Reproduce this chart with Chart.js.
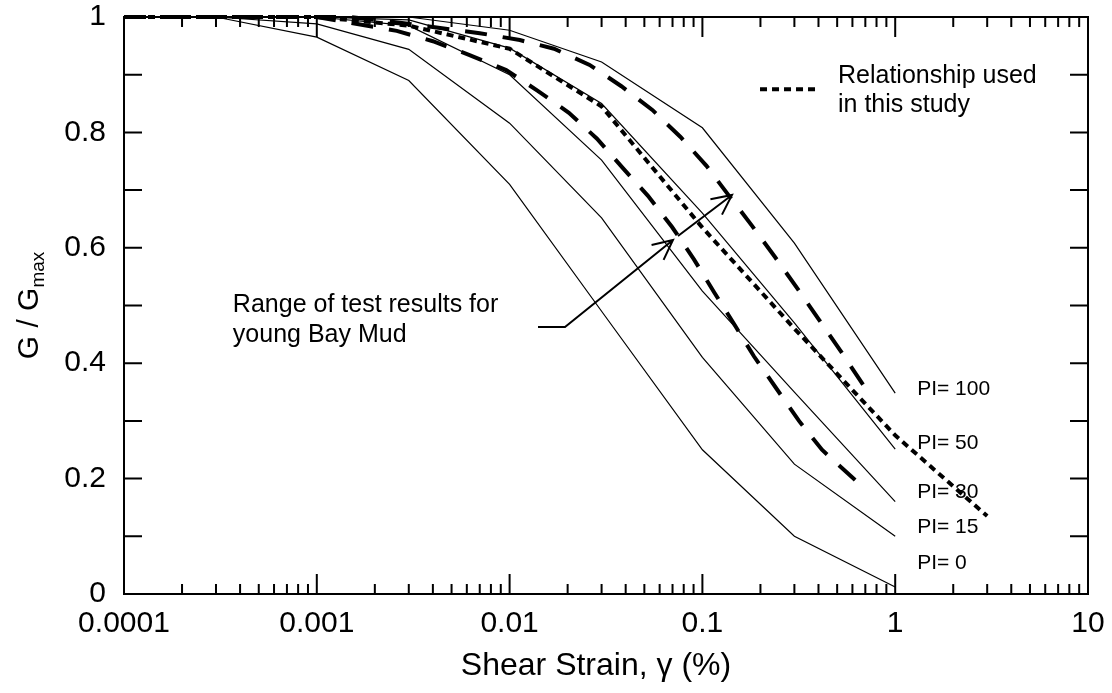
<!doctype html>
<html>
<head>
<meta charset="utf-8">
<title>G/Gmax vs Shear Strain</title>
<script src="https://cdn.jsdelivr.net/npm/chart.js@4/dist/chart.umd.min.js"></script>
<style>
  html, body { margin: 0; padding: 0; background: #fff; }
  canvas { display: block; }
</style>
</head>
<body>
<canvas id="modulusChart" width="1112" height="693"></canvas>
<script>
// strains (%) where the PI curves have their break points
var strainPoints = [0.0001, 0.0003, 0.001, 0.003, 0.01, 0.03, 0.1, 0.3, 1];
var pi0 = [1, 1, 0.965, 0.89, 0.71, 0.49, 0.25, 0.10, 0.012];
var pi15 = [1, 1, 0.988, 0.944, 0.816, 0.652, 0.41, 0.225, 0.10];
var pi30 = [1, 1, 1, 0.985, 0.90, 0.752, 0.525, 0.35, 0.16];
var pi50 = [1, 1, 1, 0.995, 0.946, 0.85, 0.66, 0.47, 0.251];
var pi100 = [1, 1, 1, 1, 0.977, 0.922, 0.808, 0.608, 0.348];

// relationship used in this study
var studyStrain = [0.0001, 0.001, 0.003, 0.01, 0.03, 0.1, 0.3, 1, 3];
var studyRatio = [1, 1, 0.985, 0.945, 0.845, 0.635, 0.46, 0.275, 0.135];

// range of test results, young Bay Mud
var upperStrain = [0.0001, 0.0015, 0.0027, 0.007, 0.0113, 0.017, 0.026, 0.038, 0.055, 0.077, 0.105, 0.1375, 0.181, 0.238, 0.31, 0.403, 0.524, 0.706];
var upperRatio = [1, 1, 0.99, 0.972, 0.96, 0.945, 0.917, 0.88, 0.839, 0.792, 0.742, 0.69, 0.638, 0.584, 0.53, 0.475, 0.42, 0.355];
var lowerStrain = [0.0001, 0.001, 0.0026, 0.004, 0.0062, 0.0096, 0.014, 0.0203, 0.0284, 0.0387, 0.0522, 0.0696, 0.0904, 0.115, 0.146, 0.185, 0.241, 0.317, 0.417, 0.656];
var lowerRatio = [1, 1, 0.976, 0.958, 0.934, 0.908, 0.872, 0.834, 0.789, 0.738, 0.69, 0.636, 0.58, 0.523, 0.468, 0.412, 0.357, 0.30, 0.25, 0.19];

var xTickValues = [0.0001, 0.001, 0.01, 0.1, 1, 10];
var xTickLabels = ["0.0001", "0.001", "0.01", "0.1", "1", "10"];
var yTickValues = [0, 0.2, 0.4, 0.6, 0.8, 1];
var yTickLabels = ["0", "0.2", "0.4", "0.6", "0.8", "1"];
var piNames = ["PI= 100", "PI= 50", "PI= 30", "PI= 15", "PI= 0"];

var FONT = '"Liberation Sans", Arial, sans-serif';

function pairs(xs, ys) {
  return xs.map(function (x, i) { return { x: x, y: ys[i] }; });
}

function solid(data) {
  return { data: data, borderColor: "#000", borderWidth: 1.2, pointRadius: 0, showLine: true, clip: false };
}

function arrowHead(ctx, fx, fy, tx, ty) {
  var ang = Math.atan2(ty - fy, tx - fx);
  var len = 22, spread = 0.45;
  ctx.moveTo(tx - len * Math.cos(ang - spread), ty - len * Math.sin(ang - spread));
  ctx.lineTo(tx, ty);
  ctx.lineTo(tx - len * Math.cos(ang + spread), ty - len * Math.sin(ang + spread));
}

// frame, inward ticks, labels and notes
var decorations = {
  id: "decorations",
  afterDatasetsDraw: function (chart) {
    var ctx = chart.ctx, a = chart.chartArea;
    var sx = chart.scales.x, sy = chart.scales.y;
    var X = function (v) { return sx.getPixelForValue(v); };
    var Y = function (v) { return sy.getPixelForValue(v); };

    ctx.save();
    ctx.strokeStyle = "#000";
    ctx.fillStyle = "#000";
    ctx.lineWidth = 2;
    ctx.strokeRect(a.left, a.top, a.right - a.left, a.bottom - a.top);

    ctx.beginPath();
    for (var d = -4; d <= 0; d++) {
      for (var m = 1; m <= 9; m++) {
        var px = X(m * Math.pow(10, d));
        var len = m === 1 ? 20 : 10;
        ctx.moveTo(px, a.bottom); ctx.lineTo(px, a.bottom - len);
        ctx.moveTo(px, a.top); ctx.lineTo(px, a.top + len);
      }
    }
    for (var k = 1; k < 10; k++) {
      var py = Y(k / 10);
      ctx.moveTo(a.left, py); ctx.lineTo(a.left + 18, py);
      ctx.moveTo(a.right, py); ctx.lineTo(a.right - 18, py);
    }
    ctx.stroke();

    // tick labels
    ctx.font = "30px " + FONT;
    ctx.textAlign = "center";
    ctx.textBaseline = "middle";
    xTickValues.forEach(function (v, i) {
      ctx.fillText(xTickLabels[i], X(v), a.bottom + 30);
    });
    ctx.textAlign = "right";
    yTickValues.forEach(function (v, i) {
      ctx.fillText(yTickLabels[i], a.left - 18, Y(v));
    });

    // axis titles
    ctx.textAlign = "center";
    ctx.font = "32px " + FONT;
    ctx.fillText("Shear Strain, \u03b3 (%)", (a.left + a.right) / 2 - 10, a.bottom + 72);

    ctx.save();
    ctx.translate(a.left - 94, (a.top + a.bottom) / 2);
    ctx.rotate(-Math.PI / 2);
    ctx.textAlign = "left";
    ctx.font = "30px " + FONT;
    var main = "G / G", w1 = ctx.measureText(main).width;
    ctx.font = "19px " + FONT;
    var w2 = ctx.measureText("max").width;
    ctx.font = "30px " + FONT;
    ctx.fillText(main, -(w1 + w2) / 2, 0);
    ctx.font = "19px " + FONT;
    ctx.fillText("max", -(w1 + w2) / 2 + w1, 9);
    ctx.restore();

    // PI labels beside the curve ends
    ctx.font = "21px " + FONT;
    ctx.textAlign = "left";
    ctx.textBaseline = "middle";
    [0.355, 0.262, 0.177, 0.116, 0.054].forEach(function (v, i) {
      ctx.fillText(piNames[i], X(1.3), Y(v));
    });

    // legend for the study relationship
    ctx.save();
    ctx.lineWidth = 4;
    ctx.setLineDash([7, 5]);
    ctx.beginPath();
    ctx.moveTo(X(0.199), Y(0.875));
    ctx.lineTo(X(0.407), Y(0.875));
    ctx.stroke();
    ctx.restore();
    ctx.font = "25px " + FONT;
    ctx.textBaseline = "alphabetic";
    ctx.fillText("Relationship used", X(0.505), Y(0.886));
    ctx.fillText("in this study", X(0.505), Y(0.835));

    // note with arrows to the test range
    ctx.fillText("Range of test results for", X(0.000367), Y(0.4887));
    ctx.fillText("young Bay Mud", X(0.000367), Y(0.4367));
    ctx.lineWidth = 2;
    ctx.beginPath();
    ctx.moveTo(X(0.01404), Y(0.4627));
    ctx.lineTo(X(0.01938), Y(0.4627));
    ctx.lineTo(X(0.07039), Y(0.6135));
    arrowHead(ctx, X(0.01938), Y(0.4627), X(0.07039), Y(0.6135));
    ctx.moveTo(X(0.0747), Y(0.6205));
    ctx.lineTo(X(0.1424), Y(0.6915));
    arrowHead(ctx, X(0.0747), Y(0.6205), X(0.1424), Y(0.6915));
    ctx.stroke();

    ctx.restore();
  }
};

new Chart(document.getElementById("modulusChart").getContext("2d"), {
  type: "scatter",
  data: {
    datasets: [
      solid(pairs(strainPoints, pi0)),
      solid(pairs(strainPoints, pi15)),
      solid(pairs(strainPoints, pi30)),
      solid(pairs(strainPoints, pi50)),
      solid(pairs(strainPoints, pi100)),
      { data: pairs(upperStrain, upperRatio), borderColor: "#000", borderWidth: 4, borderDash: [22, 16], pointRadius: 0, showLine: true, clip: false },
      { data: pairs(lowerStrain, lowerRatio), borderColor: "#000", borderWidth: 4, borderDash: [22, 16], pointRadius: 0, showLine: true, clip: false },
      { data: pairs(studyStrain, studyRatio), borderColor: "#000", borderWidth: 4, borderDash: [7, 5], pointRadius: 0, showLine: true, clip: false }
    ]
  },
  options: {
    responsive: false,
    animation: false,
    events: [],
    layout: { padding: { left: 124, right: 24, top: 17, bottom: 99 } },
    plugins: { legend: { display: false }, tooltip: { enabled: false } },
    scales: {
      x: { type: "logarithmic", min: 0.0001, max: 10, display: false },
      y: { type: "linear", min: 0, max: 1, display: false }
    }
  },
  plugins: [decorations]
});
</script>
</body>
</html>
